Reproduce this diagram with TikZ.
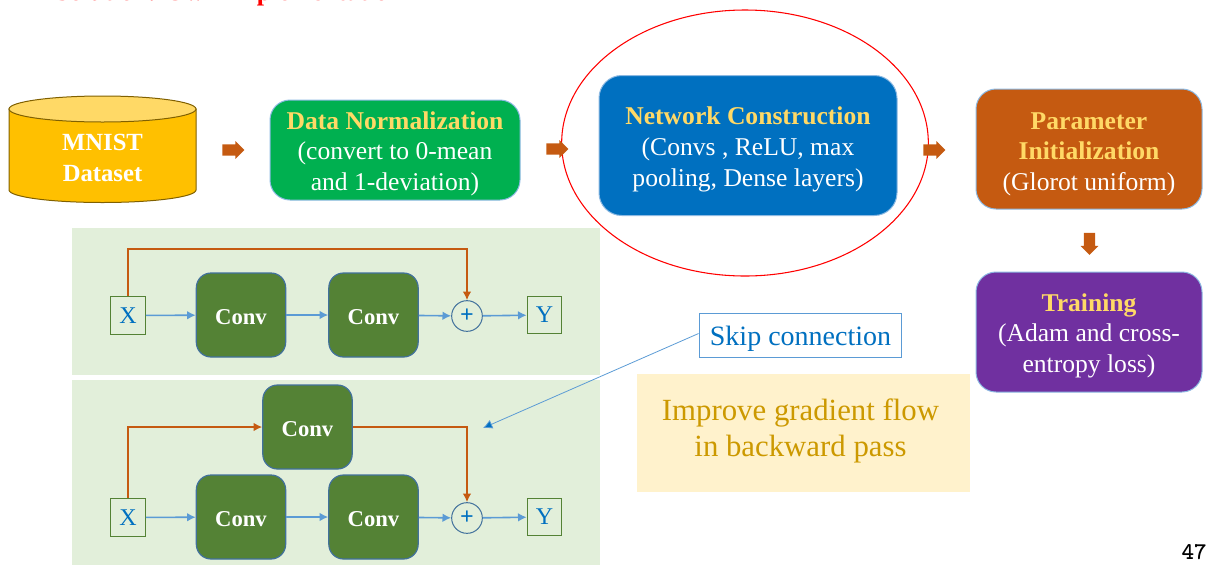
\documentclass[tikz,border=0pt]{standalone}
\usepackage{fontspec}
\setmainfont{Liberation Serif}
\usetikzlibrary{arrows.meta,shapes.geometric,shapes.arrows}
\definecolor{cyel}{HTML}{FFC000}
\definecolor{cyelt}{HTML}{FFD966}
\definecolor{cgrn}{HTML}{00B050}
\definecolor{cblu}{HTML}{0070C0}
\definecolor{corg}{HTML}{C55A11}
\definecolor{cpur}{HTML}{7030A0}
\definecolor{cpale}{HTML}{E2EFDA}
\definecolor{cconv}{HTML}{548235}
\definecolor{cedge}{HTML}{41719C}
\definecolor{clin}{HTML}{5B9BD5}
\definecolor{cgold}{HTML}{CC9900}
\definecolor{ccream}{HTML}{FFF2CC}
\newcommand{\toppad}{\rule{0pt}{19pt}}
\newcommand{\headtxt}[1]{{\color{cyelt}\bfseries #1}}
\tikzset{
  x=0.75pt,y=-0.75pt,
  box/.style={rounded corners=15pt,draw=clin!70!white,line width=0.75pt,align=center,text=white,inner sep=0pt,font=\fontsize{19.2}{23}\selectfont},
  convbox/.style={fill=cconv,draw=cedge,line width=0.9pt,rounded corners=11pt,minimum width=67pt,minimum height=63pt,inner sep=0pt,text=white,text height=13.5pt,text depth=0pt,font=\fontsize{17}{20}\selectfont\bfseries},
  ionode/.style={fill=cpale,draw=cconv,line width=0.75pt,minimum width=26pt,minimum height=28pt,inner sep=0pt,text=cblu,font=\fontsize{18}{20}\selectfont},
  plusnode/.style={circle,fill=cpale,draw=cedge,line width=0.75pt,minimum size=23pt,inner sep=0pt,text=cblu,font=\fontsize{18}{18}\selectfont\bfseries},
  bl/.style={draw=clin,line width=1.2pt,-{Latex[length=6.5pt,width=6.5pt]}},
  og/.style={draw=corg,line width=1.2pt,-{Latex[length=6.5pt,width=6.5pt]}},
  fat/.style={single arrow,fill=corg,draw=none,inner xsep=0pt,inner ysep=4pt,single arrow head extend=2.5pt,single arrow tip angle=90,minimum height=16.5pt,minimum width=13pt},
  fatd/.style={fat,shape border rotate=270,inner xsep=4pt,inner ysep=0pt}
}
\begin{document}
\begin{tikzpicture}
\useasboundingbox (0,0) rectangle (1214,565);
% title, cut off by the top edge
\begin{scope}
\clip (0,0) rectangle (1214,565);
\node[anchor=base west,text=red,inner sep=0pt,font=\fontsize{19.5}{24}\selectfont\bfseries] (title) at (55,0.7) {Solution: Own Implementation};
\end{scope}
% panels
\node[fill=cpale,draw=none,minimum width=396pt,minimum height=110pt,inner sep=0pt,anchor=north west] (panelA) at (72,228) {};
\node[fill=cpale,draw=none,minimum width=396pt,minimum height=138.5pt,inner sep=0pt,anchor=north west] (panelB) at (72,380) {};
\node[fill=ccream,draw=none,minimum width=249.5pt,minimum height=88pt,inner sep=0pt,anchor=north west] (note) at (637,374) {};
\node[inner sep=0pt,text=cgold,align=center,font=\fontsize{23.1}{27}\selectfont] (notetext) at (800.5,431) {Improve gradient flow\\in backward pass};
% cylinder
\path[fill=cyel,draw=black!50!cyel,line width=0.75pt] (9,109) -- (9,190) arc[start angle=180,end angle=0,x radius=93.5,y radius=12.5] -- (196,109) -- cycle;
\path[fill=cyelt,draw=black!50!cyel,line width=0.75pt] (102.5,109) ellipse[x radius=93.5,y radius=13];
\node[inner sep=0pt,text=white,align=center,font=\fontsize{18.5}{23}\selectfont\bfseries] (mnist) at (102.5,158) {MNIST\\Dataset};
% boxes
\node[box,fill=cgrn,minimum width=187.5pt,minimum height=75pt] (norm) at (395,150) {\toppad\headtxt{Data Normalization}\\(convert to 0-mean\\and 1-deviation)};
\node[box,fill=cblu,minimum width=223.5pt,minimum height=105pt,rounded corners=17pt] (net) at (748,145.5) {\toppad\headtxt{Network Construction}\\(Convs , ReLU, max\\pooling, Dense layers)};
\node[box,fill=corg,minimum width=169.5pt,minimum height=90pt] (init) at (1089,149) {\rule{0pt}{20.5pt}\headtxt{Parameter}\\\headtxt{Initialization}\\(Glorot uniform)};
\node[box,fill=cpur,minimum width=169.5pt,minimum height=90pt] (train) at (1089,332) {\toppad\headtxt{Training}\\(Adam and cross-\\entropy loss)};
% ellipse
\node[ellipse,draw=red,line width=0.8pt,minimum width=275pt,minimum height=199.5pt,inner sep=0pt] (ring) at (745,143) {};
% fat arrows
\node[fat] (f1) at (230.5,150) {};
\node[fat] (f2) at (554.5,149) {};
\node[fat] (f3) at (931.5,150) {};
\node[fatd] (f4) at (1089.5,241) {};
% upper residual block
\node[ionode] (xa) at (128,315.5) {X};
\node[convbox] (ca1) at (241,315) {Conv};
\node[convbox] (ca2) at (373.5,315) {Conv};
\node[plusnode] (pa) at (467,316) {+};
\node[ionode] (ya) at (544.5,315) {Y};
\draw[bl] (xa) -- (ca1);
\draw[bl] (ca1) -- (ca2);
\draw[bl] (ca2) -- (pa);
\draw[bl] (pa) -- (ya);
\draw[og] (xa.north) |- (467,249) -- (pa.north);
% lower residual block
\node[ionode] (xb) at (128,517.5) {X};
\node[convbox] (cb1) at (241,517) {Conv};
\node[convbox] (cb2) at (373.5,517) {Conv};
\node[convbox] (cb3) at (307.5,427) {Conv};
\node[plusnode] (pb) at (467,518) {+};
\node[ionode] (yb) at (544.5,517) {Y};
\draw[bl] (xb) -- (cb1);
\draw[bl] (cb1) -- (cb2);
\draw[bl] (cb2) -- (pb);
\draw[bl] (pb) -- (yb);
\draw[og] (xb.north) |- (cb3.west);
\draw[og] (cb3.east) -| (pb.north);
% callout
\node[fill=white,draw=clin,line width=0.9pt,minimum width=152pt,minimum height=33pt,inner sep=0pt,text=cblu,text height=18.6pt,text depth=3pt,font=\fontsize{21}{23}\selectfont] (skip) at (800.5,335.5) {Skip connection};
\coordinate (skipend) at (483,428);
\draw[draw=clin,line width=0.6pt,-{Latex[length=7pt,width=7pt,fill=cblu]}] (skip.west) ++(0,-2) -- (skipend);
% page number
\node[inner sep=0pt,font=\ttfamily\bfseries\fontsize{18}{18}\selectfont,anchor=east] (page) at (1207,552) {47};
\end{tikzpicture}
\end{document}
